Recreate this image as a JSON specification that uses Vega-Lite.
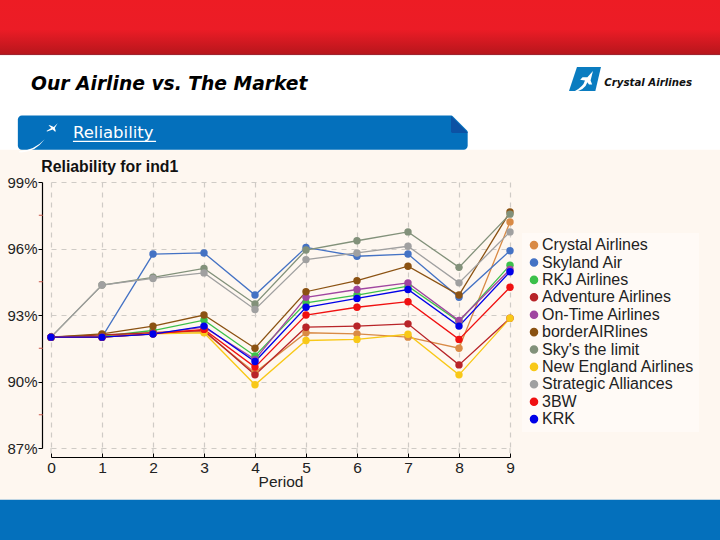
{
"$schema":"https://vega.github.io/schema/vega-lite/v6.json",
"width":459,"height":266,
"autosize":"none",
"padding":{"left":51,"top":182,"right":210,"bottom":92},
"background":"#fef7f0",
"config":{"view":{"stroke":null},"font":"Liberation Sans"},
"datasets":{"d":[
{"a":"Crystal Airlines","p":0,"v":92.0},{"a":"Crystal Airlines","p":1,"v":92.05},{"a":"Crystal Airlines","p":2,"v":92.2},{"a":"Crystal Airlines","p":3,"v":92.25},{"a":"Crystal Airlines","p":4,"v":90.4},{"a":"Crystal Airlines","p":5,"v":92.2},{"a":"Crystal Airlines","p":6,"v":92.15},{"a":"Crystal Airlines","p":7,"v":92.0},{"a":"Crystal Airlines","p":8,"v":91.5},{"a":"Crystal Airlines","p":9,"v":97.2},
{"a":"Skyland Air","p":0,"v":92.0},{"a":"Skyland Air","p":1,"v":92.0},{"a":"Skyland Air","p":2,"v":95.75},{"a":"Skyland Air","p":3,"v":95.8},{"a":"Skyland Air","p":4,"v":93.9},{"a":"Skyland Air","p":5,"v":96.05},{"a":"Skyland Air","p":6,"v":95.65},{"a":"Skyland Air","p":7,"v":95.75},{"a":"Skyland Air","p":8,"v":93.8},{"a":"Skyland Air","p":9,"v":95.9},
{"a":"RKJ Airlines","p":0,"v":92.0},{"a":"RKJ Airlines","p":1,"v":92.05},{"a":"RKJ Airlines","p":2,"v":92.3},{"a":"RKJ Airlines","p":3,"v":92.77},{"a":"RKJ Airlines","p":4,"v":91.15},{"a":"RKJ Airlines","p":5,"v":93.55},{"a":"RKJ Airlines","p":6,"v":93.9},{"a":"RKJ Airlines","p":7,"v":94.3},{"a":"RKJ Airlines","p":8,"v":92.7},{"a":"RKJ Airlines","p":9,"v":95.25},
{"a":"Adventure Airlines","p":0,"v":92.0},{"a":"Adventure Airlines","p":1,"v":92.1},{"a":"Adventure Airlines","p":2,"v":92.2},{"a":"Adventure Airlines","p":3,"v":92.3},{"a":"Adventure Airlines","p":4,"v":90.3},{"a":"Adventure Airlines","p":5,"v":92.45},{"a":"Adventure Airlines","p":6,"v":92.5},{"a":"Adventure Airlines","p":7,"v":92.6},{"a":"Adventure Airlines","p":8,"v":90.75},{"a":"Adventure Airlines","p":9,"v":92.85},
{"a":"On-Time Airlines","p":0,"v":92.0},{"a":"On-Time Airlines","p":1,"v":92.0},{"a":"On-Time Airlines","p":2,"v":92.15},{"a":"On-Time Airlines","p":3,"v":92.45},{"a":"On-Time Airlines","p":4,"v":91.0},{"a":"On-Time Airlines","p":5,"v":93.8},{"a":"On-Time Airlines","p":6,"v":94.15},{"a":"On-Time Airlines","p":7,"v":94.45},{"a":"On-Time Airlines","p":8,"v":92.75},{"a":"On-Time Airlines","p":9,"v":95.05},
{"a":"borderAIRlines","p":0,"v":92.0},{"a":"borderAIRlines","p":1,"v":92.15},{"a":"borderAIRlines","p":2,"v":92.5},{"a":"borderAIRlines","p":3,"v":93.0},{"a":"borderAIRlines","p":4,"v":91.5},{"a":"borderAIRlines","p":5,"v":94.05},{"a":"borderAIRlines","p":6,"v":94.55},{"a":"borderAIRlines","p":7,"v":95.2},{"a":"borderAIRlines","p":8,"v":93.9},{"a":"borderAIRlines","p":9,"v":97.65},
{"a":"Sky's the limit","p":0,"v":92.0},{"a":"Sky's the limit","p":1,"v":94.35},{"a":"Sky's the limit","p":2,"v":94.7},{"a":"Sky's the limit","p":3,"v":95.1},{"a":"Sky's the limit","p":4,"v":93.5},{"a":"Sky's the limit","p":5,"v":95.93},{"a":"Sky's the limit","p":6,"v":96.35},{"a":"Sky's the limit","p":7,"v":96.75},{"a":"Sky's the limit","p":8,"v":95.15},{"a":"Sky's the limit","p":9,"v":97.55},
{"a":"New England Airlines","p":0,"v":92.0},{"a":"New England Airlines","p":1,"v":92.0},{"a":"New England Airlines","p":2,"v":92.15},{"a":"New England Airlines","p":3,"v":92.2},{"a":"New England Airlines","p":4,"v":89.85},{"a":"New England Airlines","p":5,"v":91.85},{"a":"New England Airlines","p":6,"v":91.9},{"a":"New England Airlines","p":7,"v":92.13},{"a":"New England Airlines","p":8,"v":90.3},{"a":"New England Airlines","p":9,"v":92.85},
{"a":"Strategic Alliances","p":0,"v":92.0},{"a":"Strategic Alliances","p":1,"v":94.35},{"a":"Strategic Alliances","p":2,"v":94.65},{"a":"Strategic Alliances","p":3,"v":94.9},{"a":"Strategic Alliances","p":4,"v":93.25},{"a":"Strategic Alliances","p":5,"v":95.5},{"a":"Strategic Alliances","p":6,"v":95.8},{"a":"Strategic Alliances","p":7,"v":96.1},{"a":"Strategic Alliances","p":8,"v":94.45},{"a":"Strategic Alliances","p":9,"v":96.75},
{"a":"3BW","p":0,"v":92.0},{"a":"3BW","p":1,"v":92.0},{"a":"3BW","p":2,"v":92.15},{"a":"3BW","p":3,"v":92.35},{"a":"3BW","p":4,"v":90.65},{"a":"3BW","p":5,"v":93.0},{"a":"3BW","p":6,"v":93.35},{"a":"3BW","p":7,"v":93.6},{"a":"3BW","p":8,"v":91.9},{"a":"3BW","p":9,"v":94.25},
{"a":"KRK","p":0,"v":92.0},{"a":"KRK","p":1,"v":92.0},{"a":"KRK","p":2,"v":92.14},{"a":"KRK","p":3,"v":92.5},{"a":"KRK","p":4,"v":90.9},{"a":"KRK","p":5,"v":93.35},{"a":"KRK","p":6,"v":93.75},{"a":"KRK","p":7,"v":94.15},{"a":"KRK","p":8,"v":92.5},{"a":"KRK","p":9,"v":94.95}
]},
"data":{"name":"d"},
"layer":[
{"data":{"values":[{"k":"red"}]},"mark":{"type":"rect","color":{"x1":0,"y1":0,"x2":0,"y2":1,"gradient":"linear","stops":[{"offset":0,"color":"#ed1c24"},{"offset":0.55,"color":"#ec1c26"},{"offset":0.97,"color":"#b9161c"},{"offset":1,"color":"#8e2c3c"}]}},
 "encoding":{"x":{"datum":-1.1,"type":"quantitative","scale":{"domain":[0,9]}},"x2":{"datum":13.2},"y":{"datum":107.3,"type":"quantitative","scale":{"domain":[87,99]}},"y2":{"datum":104.72}}},
{"data":{"values":[{"k":"white"}]},"mark":{"type":"rect","color":"#ffffff"},
 "encoding":{"x":{"datum":-1.1,"type":"quantitative"},"x2":{"datum":13.2},"y":{"datum":104.72,"type":"quantitative"},"y2":{"datum":100.45}}},
{"data":{"values":[{"k":"blue"}]},"mark":{"type":"rect","color":"#0470bc","cornerRadius":4},
 "encoding":{"x":{"datum":-0.65,"type":"quantitative"},"x2":{"datum":8.17},"y":{"datum":102.0,"type":"quantitative"},"y2":{"datum":100.45}}},
{"data":{"values":[{"k":"fold"}]},"mark":{"type":"point","filled":true,"opacity":1,"size":289,"color":"#0c52a4","shape":"M-1,-1 L1,1 L-0.9,1 L-1,0.8 Z"},
 "encoding":{"x":{"datum":8.01,"type":"quantitative"},"y":{"datum":101.59,"type":"quantitative"}}},
{"data":{"values":[{"k":"foldwhite"}]},"mark":{"type":"point","filled":true,"opacity":1,"size":324,"color":"#ffffff","shape":"M-1,-1 L1,-1 L1,1 Z"},
 "encoding":{"x":{"datum":8.03,"type":"quantitative"},"y":{"datum":101.62,"type":"quantitative"}}},
{"data":{"values":[{"k":"plane"}]},"mark":{"type":"point","filled":true,"opacity":1,"size":196,"color":"#ffffff","shape":"M-0.8,0.3 L-0.1,-0.1 L-0.5,-0.5 L-0.3,-0.5 L0.25,-0.25 L0.8,-0.8 L0.4,-0.1 L0.55,0.4 L0.4,0.4 L0.1,0.1 L-0.7,0.4 Z"},
 "encoding":{"x":{"datum":0.02,"type":"quantitative"},"y":{"datum":101.4,"type":"quantitative"}}},
{"data":{"values":[{"k":"swoosh"}]},"mark":{"type":"point","filled":true,"opacity":1,"size":900,"color":"#ffffff","shape":"M-1,0.5 Q0,0.45 0.7,-0.3 Q0,0.65 -1,0.56 Z"},
 "encoding":{"x":{"datum":-0.33,"type":"quantitative"},"y":{"datum":100.72,"type":"quantitative"}}},
{"data":{"values":[{"k":"underline"}]},"mark":{"type":"rect","color":"#ffffff"},
 "encoding":{"x":{"datum":0.43,"type":"quantitative"},"x2":{"datum":2.06},"y":{"datum":100.86,"type":"quantitative"},"y2":{"datum":100.81}}},
{"data":{"values":[{"k":"logo"}]},"mark":{"type":"point","filled":true,"opacity":1,"size":1024,"color":"#0a7cc0","shape":"M-0.5,-0.75 L1,-0.75 L0.65,0.75 L-1,0.75 Z"},
 "encoding":{"x":{"datum":10.47,"type":"quantitative"},"y":{"datum":103.65,"type":"quantitative"}}},
{"data":{"values":[{"k":"logoplane"}]},"mark":{"type":"point","filled":true,"opacity":1,"size":1024,"color":"#ffffff","shape":"M-0.7,0.8 Q-0.1,0.5 0,0.1 L-0.3,0.05 L-0.15,-0.1 L0.15,-0.1 L0.5,-0.5 L0.35,0.1 L0.45,0.35 L0.25,0.35 L0.15,0.2 Q0,0.7 -0.7,0.8 Z"},
 "encoding":{"x":{"datum":10.47,"type":"quantitative"},"y":{"datum":103.65,"type":"quantitative"}}},
{"data":{"values":[{"k":"foot"}]},"mark":{"type":"rect","color":"#0470bc"},
 "encoding":{"x":{"datum":-1.1,"type":"quantitative"},"x2":{"datum":13.2},"y":{"datum":84.66,"type":"quantitative"},"y2":{"datum":82.8}}},
{"data":{"values":[{"t":"Our Airline vs. The Market"}]},"mark":{"type":"text","align":"left","baseline":"alphabetic","font":"DejaVu Sans","fontStyle":"italic","fontWeight":"bold","fontSize":18.7,"color":"#000000"},
 "encoding":{"text":{"field":"t"},"x":{"datum":-0.39,"type":"quantitative"},"y":{"datum":103.15,"type":"quantitative"}}},
{"data":{"values":[{"t":"Reliability"}]},"mark":{"type":"text","align":"left","baseline":"alphabetic","font":"DejaVu Sans","fontSize":16.5,"color":"#ffffff"},
 "encoding":{"text":{"field":"t"},"x":{"datum":0.43,"type":"quantitative"},"y":{"datum":100.97,"type":"quantitative"}}},
{"data":{"values":[{"t":"Crystal Airlines"}]},"mark":{"type":"text","align":"left","baseline":"alphabetic","font":"DejaVu Sans","fontStyle":"italic","fontWeight":"bold","fontSize":10.2,"color":"#111111"},
 "encoding":{"text":{"field":"t"},"x":{"datum":10.85,"type":"quantitative"},"y":{"datum":103.35,"type":"quantitative"}}},
{"data":{"values":[{"t":"Reliability for ind1"}]},"mark":{"type":"text","align":"left","baseline":"alphabetic","font":"Liberation Sans","fontWeight":"bold","fontSize":15.8,"color":"#111111"},
 "encoding":{"text":{"field":"t"},"x":{"datum":-0.19,"type":"quantitative"},"y":{"datum":99.45,"type":"quantitative"}}},
{"data":{"values":[{"m":88.5},{"m":91.5},{"m":94.5},{"m":97.5}]},"mark":{"type":"tick","orient":"horizontal","size":4,"thickness":1,"color":"#c8564a","opacity":1},
 "encoding":{"x":{"datum":-0.2,"type":"quantitative"},"y":{"field":"m","type":"quantitative"}}},
{"data":{"values":[{"g":0},{"g":1},{"g":2},{"g":3},{"g":4},{"g":5},{"g":6},{"g":7},{"g":8},{"g":9}]},"mark":{"type":"rule","color":"#cfcbc6","strokeDash":[5,5],"strokeWidth":1.2},
 "encoding":{"x":{"field":"g","type":"quantitative"},"y":{"datum":87,"type":"quantitative"},"y2":{"datum":86.6}}},
{"mark":{"type":"line","strokeWidth":1.3,"clip":false},
 "encoding":{"x":{"field":"p","type":"quantitative","axis":{"values":[0,1,2,3,4,5,6,7,8,9],"format":"d","title":"Period","titleFont":"Liberation Sans","titleFontWeight":"normal","titleFontSize":15.5,"titleColor":"#222222","titlePadding":-1,"labelFontSize":15.5,"labelColor":"#222222","labelPadding":7,"labelFlush":false,"offset":9,"domainColor":"#000000","tickColor":"#000000","tickSize":-4,"grid":true,"gridColor":"#cfcbc6","gridDash":[5,5],"gridWidth":1.2}},
 "y":{"field":"v","type":"quantitative","axis":{"values":[87,90,93,96,99],"labelExpr":"datum.value + '%'","title":null,"labelFontSize":15,"labelColor":"#222222","labelPadding":1,"offset":9,"domainColor":"#000000","domainWidth":1.2,"tickColor":"#000000","tickSize":4,"grid":true,"gridColor":"#cfcbc6","gridDash":[5,5],"gridWidth":1.2}},
 "color":{"field":"a","type":"nominal","legend":{"title":null,"orient":"none","legendX":471,"legendY":51,"padding":4,"fillColor":"#fffaf6","symbolType":"circle","symbolSize":50,"labelFontSize":16,"labelColor":"#222222","labelFont":"Liberation Sans","rowPadding":0.4,"labelOffset":0,"symbolOpacity":1,"labelLimit":200,"clipHeight":16.2},"scale":{"domain":["Crystal Airlines","Skyland Air","RKJ Airlines","Adventure Airlines","On-Time Airlines","borderAIRlines","Sky's the limit","New England Airlines","Strategic Alliances","3BW","KRK"],"range":["#d98a45","#4472c4","#3cc04a","#b82428","#a046a0","#8b5212","#82917a","#f8c818","#a0a0a0","#f01010","#0000e8"]}},
 "detail":{"field":"a"}}},
{"mark":{"type":"point","filled":true,"opacity":1,"size":55,"clip":false},
 "encoding":{"x":{"field":"p","type":"quantitative"},"y":{"field":"v","type":"quantitative"},
 "color":{"field":"a","type":"nominal"}}}
]
}
